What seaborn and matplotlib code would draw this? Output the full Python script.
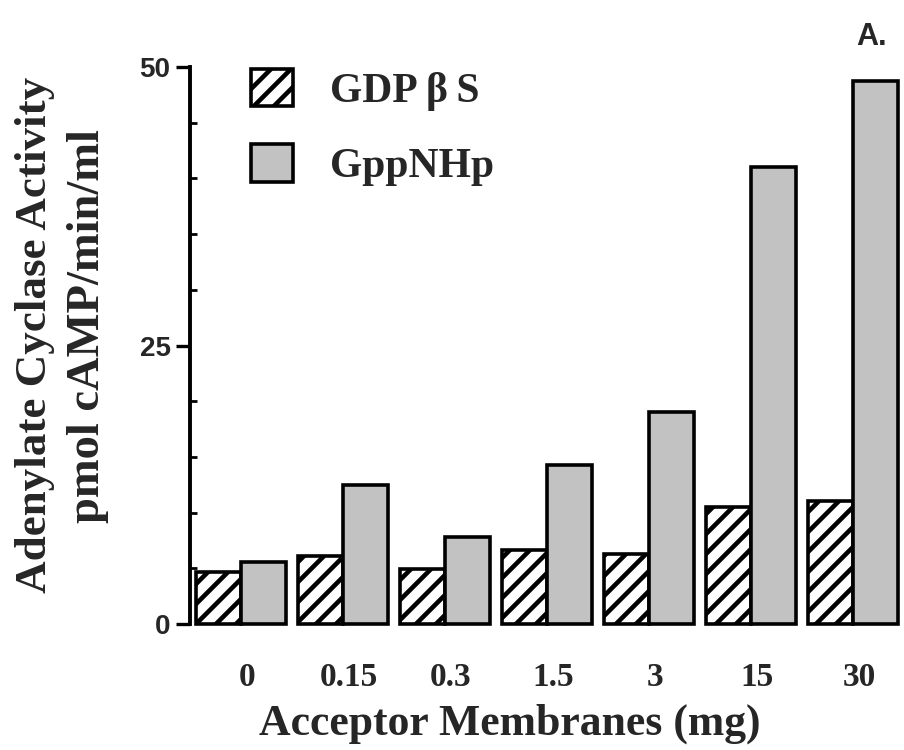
import matplotlib
matplotlib.use("Agg")
import matplotlib.pyplot as plt
import matplotlib.transforms as mtransforms
import seaborn as sns
import pandas as pd
from matplotlib.patches import Patch
from matplotlib.ticker import MultipleLocator

# ---- data ----
doses = ["0", "0.15", "0.3", "1.5", "3", "15", "30"]
gdpbs = [4.7, 6.1, 4.9, 6.6, 6.3, 10.5, 11.0]
gppnhp = [5.6, 12.5, 7.8, 14.3, 19.0, 41.0, 48.7]
series = ["GDP\u2009\u03b2\u2009S", "GppNHp"]

df = pd.DataFrame({
    "dose": doses * 2,
    "value": gdpbs + gppnhp,
    "treatment": [series[0]] * len(doses) + [series[1]] * len(doses),
})

DPI = 120
K = 100 / DPI  # sizes below are written as points at 100 dpi


def pt(v):
    return v * K


sns.set_theme(style="white")
plt.rcParams["hatch.linewidth"] = pt(3.3)
plt.rcParams["hatch.color"] = "black"
serif = ["Liberation Serif", "DejaVu Serif"]
sans = ["Liberation Sans", "DejaVu Sans"]

fig = plt.figure(figsize=(904 / DPI, 750 / DPI), dpi=DPI)
ax = fig.add_axes([190 / 904, 126 / 750, 714 / 904, 557 / 750])

gray = "#c2c2c2"
sns.barplot(data=df, x="dose", y="value", hue="treatment", order=doses,
            hue_order=series, palette=["white", gray], width=0.88, gap=0,
            edgecolor="black", linewidth=pt(2.6), legend=False, ax=ax,
            saturation=1)

for bar in ax.containers[0]:
    bar.set_hatch("//")
    bar.set_clip_on(False)
for bar in ax.containers[1]:
    bar.set_clip_on(False)

ax.set_xlim(-0.5, 6.5)
ax.set_ylim(0, 50)
ax.set_yticks([0, 25, 50])
ax.yaxis.set_minor_locator(MultipleLocator(5))
for s in ["top", "right", "bottom"]:
    ax.spines[s].set_visible(False)
ax.spines["left"].set_linewidth(pt(2.8))
ax.spines["left"].set_color("black")

ax.tick_params(axis="y", which="major", direction="out", length=pt(10), width=pt(2.4),
               left=True, pad=pt(4), color="black")
ax.tick_params(axis="y", which="minor", direction="in", length=pt(5), width=pt(2.0),
               left=True, color="black")
ax.tick_params(axis="x", length=0, pad=pt(27))
for lab in ax.get_yticklabels():
    lab.set_fontfamily(sans)
    lab.set_fontweight("bold")
    lab.set_fontsize(pt(20))
shift = mtransforms.ScaledTranslation(6 / DPI, 0, fig.dpi_scale_trans)
for lab in ax.get_xticklabels():
    lab.set_fontfamily(serif)
    lab.set_fontweight("bold")
    lab.set_fontsize(pt(24))
    lab.set_transform(lab.get_transform() + shift)

ax.set_xlabel("")
ax.set_ylabel("")

fig.text(510 / 904, 1 - 724 / 750, "Acceptor Membranes (mg)", ha="center", va="center",
         fontfamily=serif, fontweight="bold", fontsize=pt(31.5))

fig.text(35 / 904, 1 - 335 / 750, "Adenylate Cyclase Activity", rotation=90,
         ha="center", va="center", fontfamily=serif, fontweight="bold", fontsize=pt(32.5))
fig.text(88 / 904, 1 - 326 / 750, "pmol cAMP/min/ml", rotation=90,
         ha="center", va="center", fontfamily=serif, fontweight="bold", fontsize=pt(33.5))

fig.text(872 / 904, 1 - 37 / 750, "A.", ha="center", va="center",
         fontfamily=sans, fontweight="bold", fontsize=pt(22))

handles = [Patch(facecolor="white", edgecolor="black", hatch="//", linewidth=pt(2.6)),
           Patch(facecolor=gray, edgecolor="black", linewidth=pt(2.6))]
leg = ax.legend(handles, series, loc="upper left",
                bbox_to_anchor=(61 / 714, 1.0 - 2 / 557), frameon=False,
                prop={"family": serif, "weight": "bold", "size": pt(30)},
                handlelength=1.0, handleheight=1.0, handletextpad=0.9,
                labelspacing=0.8, borderaxespad=0, borderpad=0)

fig.savefig("out.png", dpi=DPI, facecolor="white")
